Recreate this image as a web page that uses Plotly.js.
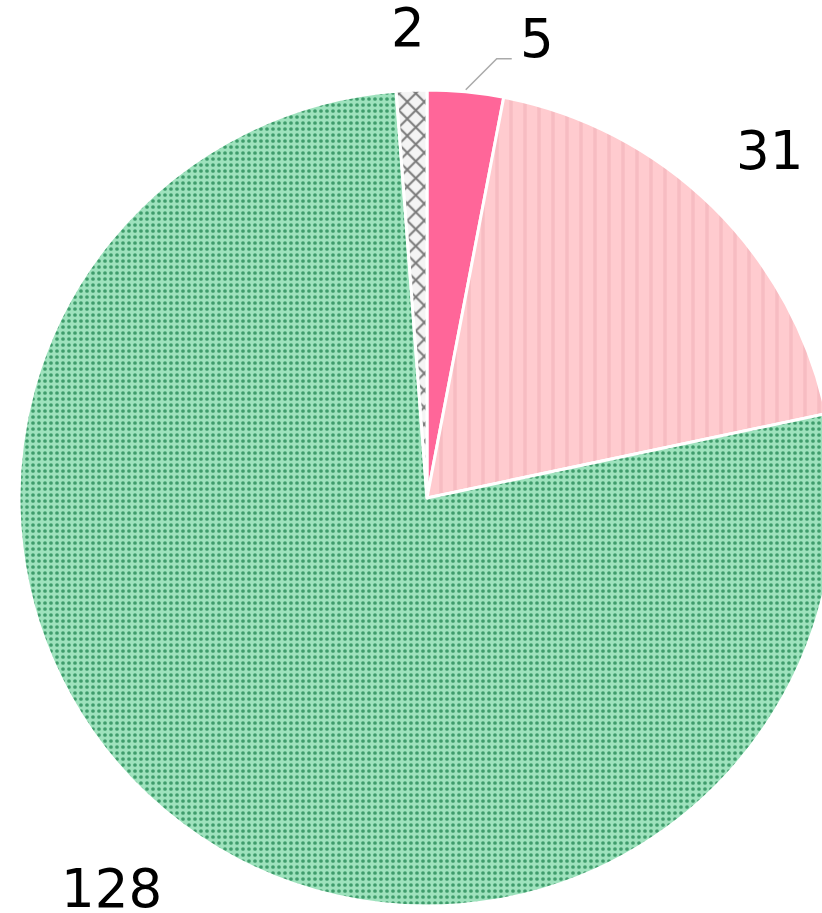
<!DOCTYPE html>
<html>
<head>
<meta charset="utf-8">
<script src="https://cdn.plot.ly/plotly-3.0.1.min.js"></script>
<style>
html,body{margin:0;padding:0;overflow:hidden;background:#fff;}
#chart{width:854px;height:913px;}
</style>
</head>
<body>
<div id="chart"></div>
<script>
// ---- data ----
const labels = ["A", "B", "C", "D"];
const values = [5, 31, 128, 2];

// ---- styles ----
const colors = ["#ff6699", "#ffcbcf", "#9ee2bd", "#f4f4f4"];
const patternShapes = ["", "|", ".", "x"];
const patternFg = ["#ff6699", "#f7bcc2", "#3f9d6c", "#7a7a7a"];
const patternSize = [8, 14, 6, 12];
const patternSolidity = [0.3, 0.25, 0.3, 0.3];
// label nudges in px (xshift, yshift) relative to the 1.2R mid-angle point
const labelShiftX = [0, 0, -22, 0];
const labelShiftY = [0, -2, 1, -19];
const leaderIndex = 0;           // slice whose label uses a leader line
const leaderOffset = [31, -31, 15]; // diag dx, dy, then horizontal dx (px)
const fontFamily = "DejaVu Sans, Verdana, sans-serif";
const fontSize = 53;

const W = 854, H = 913;
const M = {l: 19, r: 19, t: 90, b: 7};
const PW = W - M.l - M.r, PH = H - M.t - M.b;

const trace = {
  type: "pie",
  labels: labels,
  values: values,
  sort: false,
  direction: "clockwise",
  rotation: 0,
  textinfo: "none",
  automargin: false,
  marker: {
    colors: colors,
    line: {color: "#ffffff", width: 3},
    pattern: {
      shape: patternShapes,
      fgcolor: patternFg,
      bgcolor: colors,
      size: patternSize,
      solidity: patternSolidity,
      fillmode: "replace"
    }
  },
  showlegend: false,
  hoverinfo: "none"
};

// compute label positions from the values
const total = values.reduce((a, b) => a + b, 0);
const annotations = [];
const shapes = [];
let cum = 0;
values.forEach((v, i) => {
  const mid = (cum + v / 2) / total * 2 * Math.PI;
  cum += v;
  const s = Math.sin(mid), c = Math.cos(mid);
  if (i === leaderIndex) {
    const ex = 0.5 + 0.5 * 1.005 * s, ey = 0.5 + 0.5 * 1.005 * c;
    const p1x = ex + leaderOffset[0] / PW, p1y = ey - leaderOffset[1] / PH;
    const p2x = p1x + leaderOffset[2] / PW, p2y = p1y;
    shapes.push({
      type: "path", xref: "paper", yref: "paper",
      path: `M ${ex} ${ey} L ${p1x} ${p1y} L ${p2x} ${p2y}`,
      line: {color: "#aaaaaa", width: 1.5}
    });
    annotations.push({
      xref: "paper", yref: "paper",
      x: p2x + 6 / PW, y: p2y + 20 / PH,
      xanchor: "left", yanchor: "middle",
      text: String(v), showarrow: false,
      font: {family: fontFamily, size: fontSize, color: "#000"}
    });
  } else {
    annotations.push({
      xref: "paper", yref: "paper",
      x: 0.5 + 0.5 * 1.2 * s, y: 0.5 + 0.5 * 1.2 * c,
      xanchor: "center", yanchor: "middle",
      xshift: labelShiftX[i], yshift: labelShiftY[i],
      text: String(v), showarrow: false,
      font: {family: fontFamily, size: fontSize, color: "#000"}
    });
  }
});

const layout = {
  width: W,
  height: H,
  margin: M,
  paper_bgcolor: "#ffffff",
  showlegend: false,
  annotations: annotations,
  shapes: shapes
};

Plotly.newPlot("chart", [trace], layout, {displayModeBar: false, staticPlot: true});
</script>
</body>
</html>
